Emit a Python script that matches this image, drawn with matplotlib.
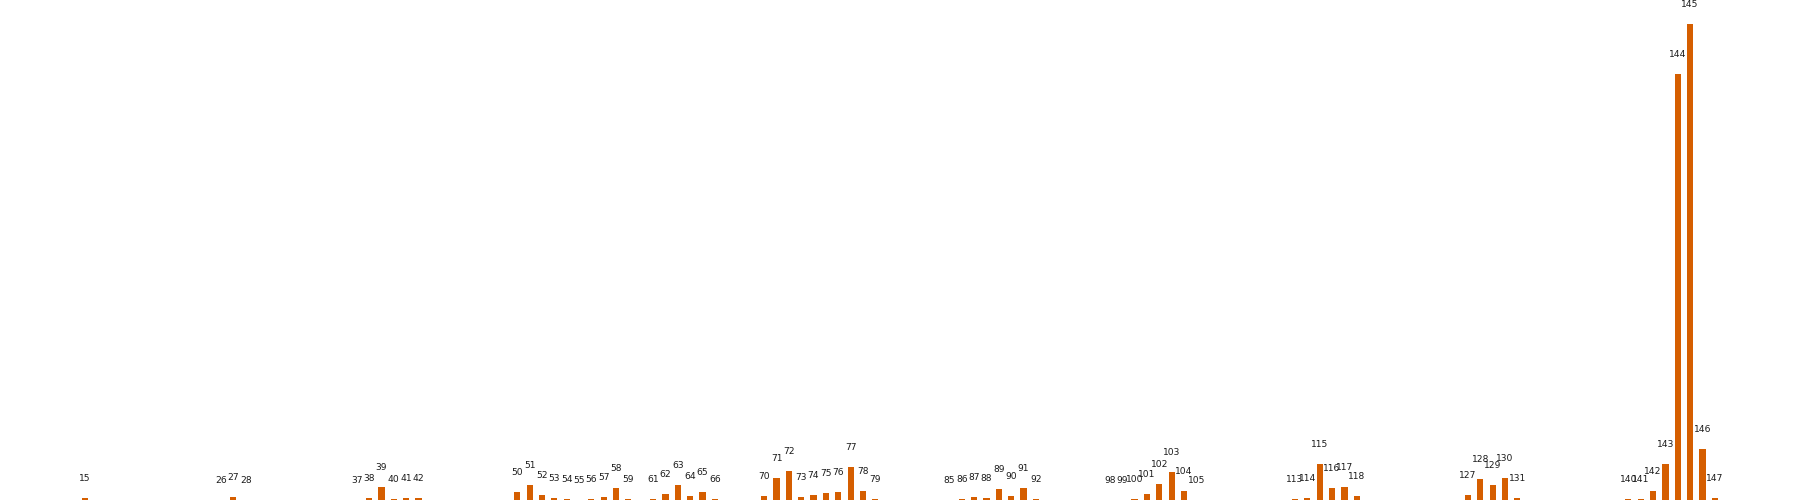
import numpy as np
import matplotlib
matplotlib.use("Agg")
import matplotlib.pyplot as plt

# bar index and height
positions = [15, 26, 27, 28, 37, 38, 39, 40, 41, 42,
             50, 51, 52, 53, 54, 55, 56, 57, 58, 59,
             61, 62, 63, 64, 65, 66,
             70, 71, 72, 73, 74, 75, 76, 77, 78, 79,
             85, 86, 87, 88, 89, 90, 91, 92,
             98, 99, 100, 101, 102, 103, 104, 105,
             113, 114, 115, 116, 117, 118,
             127, 128, 129, 130, 131,
             140, 141, 142, 143, 144, 145, 146, 147]
heights = [2, 0.3, 3, 0.3, 0.3, 2, 13, 1, 2, 2,
           8, 15, 5, 2, 1, 0.3, 1, 3, 12, 1,
           1, 6, 15, 4, 8, 1,
           4, 22, 29, 3, 5, 7, 8, 33, 9, 1,
           0.3, 1, 3, 2, 11, 4, 12, 1,
           0.3, 0.3, 1, 6, 16, 28, 9, 0.3,
           1, 2, 36, 12, 13, 4,
           5, 21, 15, 22, 2,
           1, 1, 9, 36, 426, 476, 51, 2]

bar_color = '#d55e00'

fig = plt.figure(figsize=(18, 5), dpi=100)
ax = fig.add_axes([0, 0, 1, 1])

ax.bar(positions, heights, width=0.5, color=bar_color)
for p, h in zip(positions, heights):
    ax.annotate(str(p), (p, h), xytext=(0, 14), textcoords='offset points',
                ha='center', va='center', fontsize=6.6, color='#1a1a1a')

ax.set_xlim(8.1, 153.9)
ax.set_ylim(0, 500)
ax.axis('off')

fig.savefig('out.png', dpi=100)
